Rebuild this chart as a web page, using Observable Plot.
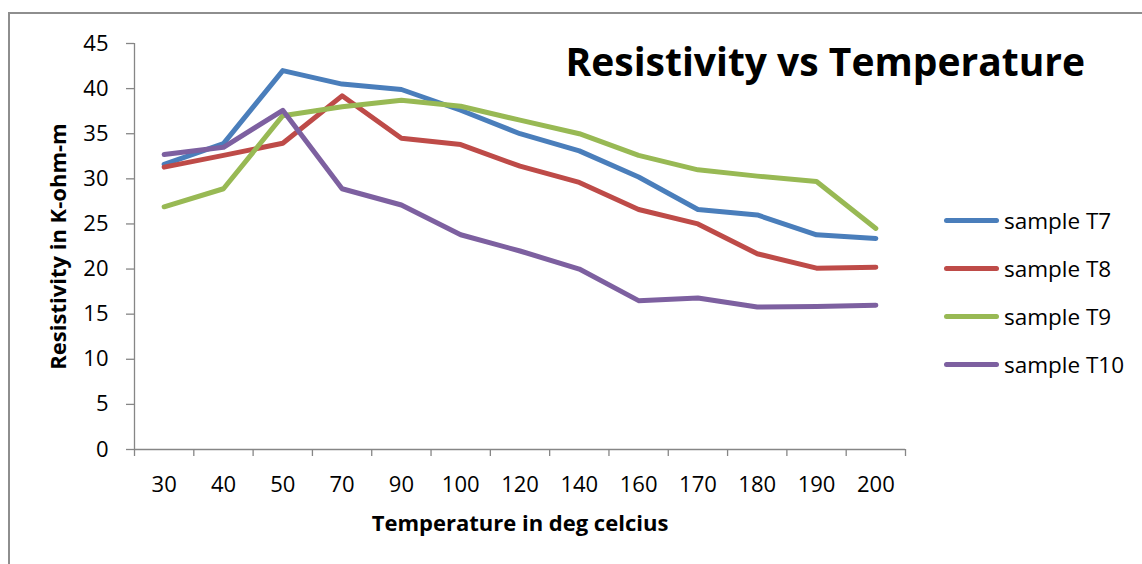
<!DOCTYPE html>
<html>
<head>
<meta charset="utf-8">
<script src="https://cdn.jsdelivr.net/npm/d3@7"></script>
<script src="https://cdn.jsdelivr.net/npm/@observablehq/plot@0.6"></script>
<style>
  html, body { margin: 0; padding: 0; background: #fff; }
  #wrap { position: relative; width: 1142px; height: 564px; overflow: hidden; font-family: "Open Sans", sans-serif; }
  #frame { position: absolute; left: 8px; top: 12px; width: 1200px; height: 600px; border-top: 2px solid #8e8e8e; border-left: 2px solid #8e8e8e; }
  #legend { position: absolute; left: 944px; top: 0; }
  .li { position: absolute; left: 0; width: 200px; height: 30px; display: flex; align-items: center; }
  .sw { width: 55px; height: 5px; border-radius: 3px; }
  .lt { margin-left: 5px; font-size: 22.5px; color: #000; white-space: nowrap; }
  svg { position: absolute; left: 0; top: 0; }
</style>
</head>
<body>
<div id="wrap"><div id="frame"></div></div>
<script>
const categories = ["30","40","50","70","90","100","120","140","160","170","180","190","200"];
const seriesNames = ["sample T7","sample T8","sample T9","sample T10"];
const seriesColors = ["#4a7ebb","#be4b48","#98b954","#7d60a0"];
const t7  = [31.6, 33.9, 42.0, 40.5, 39.9, 37.6, 35.0, 33.1, 30.2, 26.6, 26.0, 23.8, 23.4];
const t8  = [31.3, 32.6, 33.95, 39.2, 34.5, 33.8, 31.4, 29.6, 26.6, 25.0, 21.7, 20.1, 20.2];
const t9  = [26.9, 28.9, 37.0, 38.0, 38.7, 38.05, 36.5, 35.0, 32.6, 31.0, 30.3, 29.7, 24.5];
const t10 = [32.7, 33.5, 37.6, 28.9, 27.1, 23.8, 22.0, 20.0, 16.5, 16.8, 15.8, 15.85, 16.0];
const yTicks = [0,5,10,15,20,25,30,35,40,45];

const allSeries = [t7, t8, t9, t10];
const rows = [];
allSeries.forEach((vals, s) => vals.forEach((v, i) => rows.push({series: seriesNames[s], idx: i, cat: categories[i], value: v})));

const gray = "#868686";
const n = categories.length;

const chart = Plot.plot({
  width: 1142,
  height: 564,
  marginLeft: 134,
  marginRight: 237,
  marginTop: 43,
  marginBottom: 115,
  style: {fontFamily: "'Open Sans', sans-serif", background: "transparent", overflow: "visible"},
  x: {type: "linear", domain: [0, n], axis: null, label: null},
  y: {domain: [0, 45], axis: null, label: null},
  color: {domain: seriesNames, range: seriesColors},
  marks: [
    Plot.ruleX([0], {stroke: gray, strokeWidth: 1.3}),
    Plot.ruleY([0], {stroke: gray, strokeWidth: 1.3}),
    Plot.axisY(yTicks, {anchor: "left", tickSize: 8, tickPadding: 18, fontSize: 22, stroke: gray, fill: "#000", strokeWidth: 1.3, label: null}),
    Plot.axisX(d3.range(n + 1), {anchor: "bottom", tickSize: 7, tickFormat: () => "", stroke: gray, strokeWidth: 1.3, label: null}),
    Plot.axisX(d3.range(n).map(i => i + 0.5), {anchor: "bottom", tickSize: 0, tickPadding: 27, fontSize: 22, fill: "#000", tickFormat: d => categories[Math.round(d - 0.5)], label: null}),
    Plot.line(rows, {x: d => d.idx + 0.5, y: "value", z: "series", stroke: "series", strokeWidth: 5, strokeLinejoin: "round", strokeLinecap: "round"}),
    Plot.text(["Resistivity vs Temperature"], {frameAnchor: "top-left", dx: 431, dy: 20, textAnchor: "start", lineAnchor: "middle", fontSize: 39, fontWeight: "bold", fill: "#000"}),
    Plot.text(["Temperature in deg celcius"], {frameAnchor: "bottom", dy: 74, textAnchor: "middle", lineAnchor: "middle", fontSize: 22, fontWeight: "bold", fill: "#000"}),
    Plot.text(["Resistivity in K-ohm-m"], {frameAnchor: "left", dx: -76, rotate: -90, textAnchor: "middle", lineAnchor: "middle", fontSize: 22, fontWeight: "bold", fill: "#000"})
  ]
});

const wrap = document.getElementById("wrap");
wrap.appendChild(chart);

const legend = document.createElement("div");
legend.id = "legend";
const legendTops = [220, 268, 316, 364];
seriesNames.forEach((name, i) => {
  const item = document.createElement("div");
  item.className = "li";
  item.style.top = (legendTops[i] - 15) + "px";
  const sw = document.createElement("div");
  sw.className = "sw";
  sw.style.background = seriesColors[i];
  const lt = document.createElement("span");
  lt.className = "lt";
  lt.textContent = name;
  item.appendChild(sw);
  item.appendChild(lt);
  legend.appendChild(item);
});
wrap.appendChild(legend);
</script>
</body>
</html>
